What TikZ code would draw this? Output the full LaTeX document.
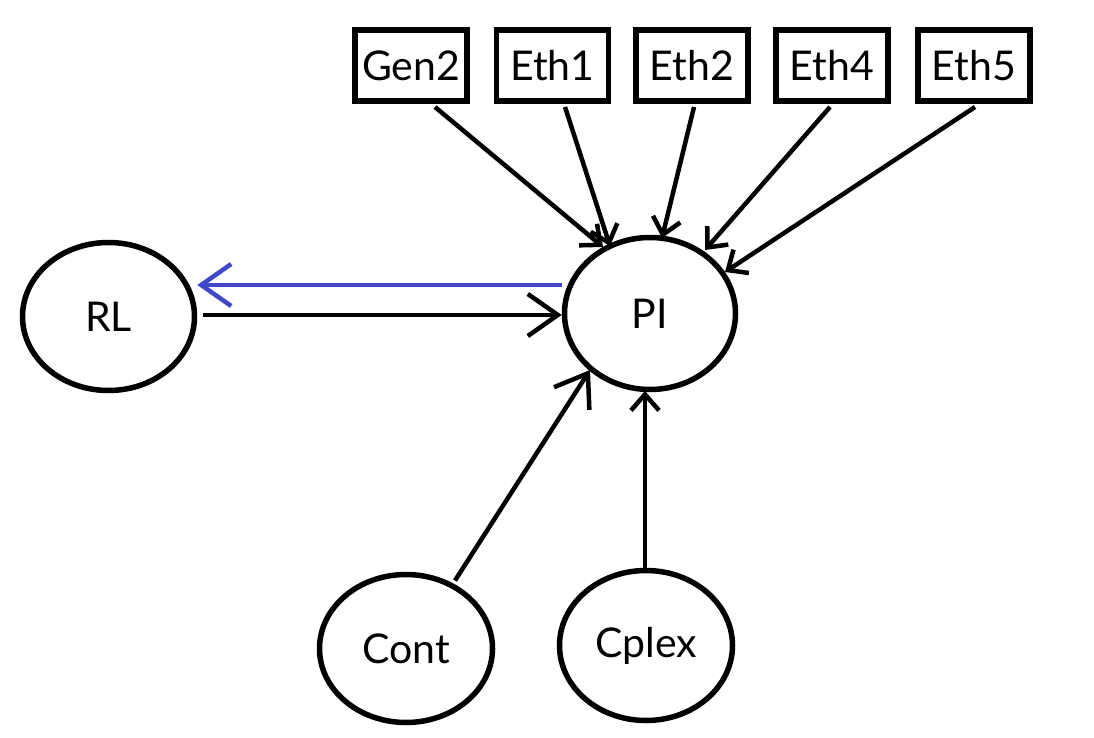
\documentclass[tikz,border=0pt]{standalone}
\usepackage{fontspec}
\setmainfont{Lato}
\usetikzlibrary{shapes.geometric,arrows.meta}
\definecolor{arrowblue}{RGB}{64,72,200}
\begin{document}
\begin{tikzpicture}[x=1pt,y=-1pt,
  boxnode/.style={draw,line width=5.5pt,minimum width=112pt,minimum height=71pt,inner sep=0pt,font=\fontsize{41}{46}\selectfont},
  ovalnode/.style={draw,ellipse,line width=5.5pt,inner sep=0pt,font=\fontsize{41}{46}\selectfont},
  bighead/.style={line width=4.5pt,-{Straight Barb[length=30pt,width=42pt]}},
  smallhead/.style={line width=4.5pt,-{Straight Barb[length=16pt,width=28pt]}}]
\useasboundingbox (0,0) rectangle (1094,738);
\fill[white] (0,0) rectangle (1094,738);
\node[boxnode] (gen2) at (411,65.5) {Gen2};
\node[boxnode] (eth1) at (552.5,65.5) {Eth1};
\node[boxnode] (eth2) at (692,65.5) {Eth2};
\node[boxnode] (eth4) at (832,65.5) {Eth4};
\node[boxnode] (eth5) at (974,65.5) {Eth5};
\node[ovalnode,minimum width=172pt,minimum height=148pt] (rl) at (108.5,316.5) {RL};
\node[ovalnode,minimum width=171pt,minimum height=152pt] (pi) at (650,313.5) {PI};
\node[ovalnode,minimum width=173pt,minimum height=148pt] (cont) at (406,648.5) {Cont};
\node[ovalnode,minimum width=173pt,minimum height=150pt] (cplex) at (646,645.5) {Cplex};
\coordinate (g2s) at (435,107);
\coordinate (e1s) at (565,107);
\coordinate (e2s) at (694,107);
\coordinate (e4s) at (830,107);
\coordinate (e5s) at (975,107);
\coordinate (g2t) at (603,247);
\coordinate (e1t) at (610,246);
\coordinate (e2t) at (662,238);
\coordinate (e4t) at (705,250);
\coordinate (e5t) at (725,272);
\draw[smallhead] (g2s) -- (g2t);
\draw[smallhead] (e1s) -- (e1t);
\draw[smallhead] (e2s) -- (e2t);
\draw[smallhead] (e4s) -- (e4t);
\draw[smallhead] (e5s) -- (e5t);
\draw[bighead] ([yshift=1.5pt]rl.east) ++(6,0) coordinate (rls) -- (pi.west |- rls);
\draw[bighead,arrowblue] (pi.west |- 0,285) coordinate (pis) -- (rl.east |- pis);
\draw[bighead] (cont) ++(49,-68) coordinate (cs) -- (590,370) coordinate (ct);
\draw[smallhead] (645,568) coordinate (cps) -- (645,391) coordinate (cpt);
\end{tikzpicture}
\end{document}
